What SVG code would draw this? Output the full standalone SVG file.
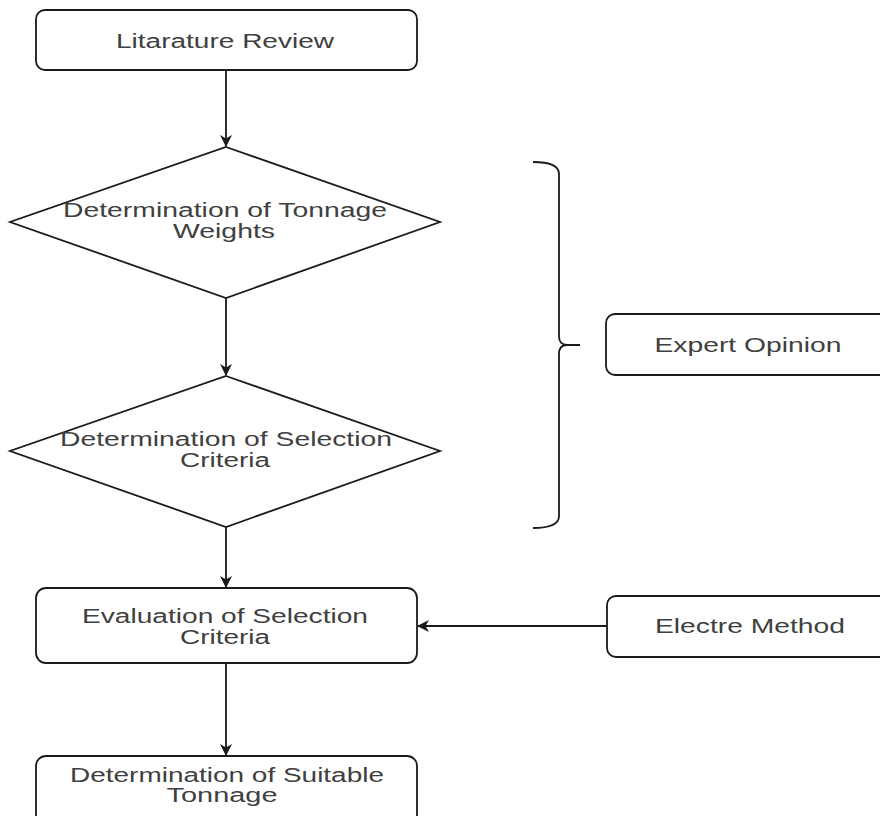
<svg xmlns="http://www.w3.org/2000/svg" width="880" height="816" viewBox="0 0 880 816">
<defs>
<style>
.box{fill:#fff;stroke:#1a1a1a;stroke-width:1.8}
.edge{fill:none;stroke:#1a1a1a;stroke-width:1.8}
text{font-family:"Liberation Sans",Arial,sans-serif;font-size:19.5px;fill:#404040;text-anchor:middle}
</style>
<marker id="ah" viewBox="0 0 12 12" refX="11" refY="6" markerWidth="12" markerHeight="12" markerUnits="userSpaceOnUse" orient="auto">
<path d="M0,0 L12,6 L0,12 L3.5,6 Z" fill="#1a1a1a"/>
</marker>
</defs>
<rect width="880" height="816" fill="#fff"/>
<g id="connectors">
<line class="edge" x1="226" y1="70" x2="226" y2="146" marker-end="url(#ah)"/>
<line class="edge" x1="226" y1="298" x2="226" y2="375" marker-end="url(#ah)"/>
<line class="edge" x1="226" y1="527" x2="226" y2="587" marker-end="url(#ah)"/>
<line class="edge" x1="226" y1="663" x2="226" y2="755" marker-end="url(#ah)"/>
<line class="edge" x1="607" y1="626" x2="418" y2="626" marker-end="url(#ah)"/>
</g>
<g id="litarature-review">
<rect class="box" x="36" y="10" width="381" height="60" rx="9"/>
<text x="225" y="48" textLength="218" lengthAdjust="spacingAndGlyphs">Litarature Review</text>
</g>
<g id="tonnage-weights">
<polygon class="box" points="226,147 440,222 226,298 10,222"/>
<text x="225" y="217" textLength="324" lengthAdjust="spacingAndGlyphs">Determination of Tonnage</text>
<text x="224" y="238" textLength="102" lengthAdjust="spacingAndGlyphs">Weights</text>
</g>
<g id="selection-criteria">
<polygon class="box" points="226,376 440,451 226,527 10,451"/>
<text x="226" y="446" textLength="332" lengthAdjust="spacingAndGlyphs">Determination of Selection</text>
<text x="225" y="467" textLength="90" lengthAdjust="spacingAndGlyphs">Criteria</text>
</g>
<g id="brace">
<path class="edge" d="M533,162 Q559,162 559,174 L559,336 Q559,345 567,345 Q559,345 559,354 L559,516 Q559,528 533,528 M567,345 L580,345"/>
</g>
<g id="expert-opinion">
<rect class="box" x="606" y="314" width="300" height="61" rx="9"/>
<text x="748" y="352" textLength="187" lengthAdjust="spacingAndGlyphs">Expert Opinion</text>
</g>
<g id="evaluation">
<rect class="box" x="36" y="588" width="381" height="75" rx="10"/>
<text x="225" y="623" textLength="286" lengthAdjust="spacingAndGlyphs">Evaluation of Selection</text>
<text x="225" y="644" textLength="90" lengthAdjust="spacingAndGlyphs">Criteria</text>
</g>
<g id="electre-method">
<rect class="box" x="607" y="596" width="300" height="61" rx="9"/>
<text x="750" y="633" textLength="190" lengthAdjust="spacingAndGlyphs">Electre Method</text>
</g>
<g id="suitable-tonnage">
<rect class="box" x="36" y="756" width="381" height="75" rx="10"/>
<text x="227" y="782" textLength="314" lengthAdjust="spacingAndGlyphs">Determination of Suitable</text>
<text x="222" y="802" textLength="111" lengthAdjust="spacingAndGlyphs">Tonnage</text>
</g>
</svg>
